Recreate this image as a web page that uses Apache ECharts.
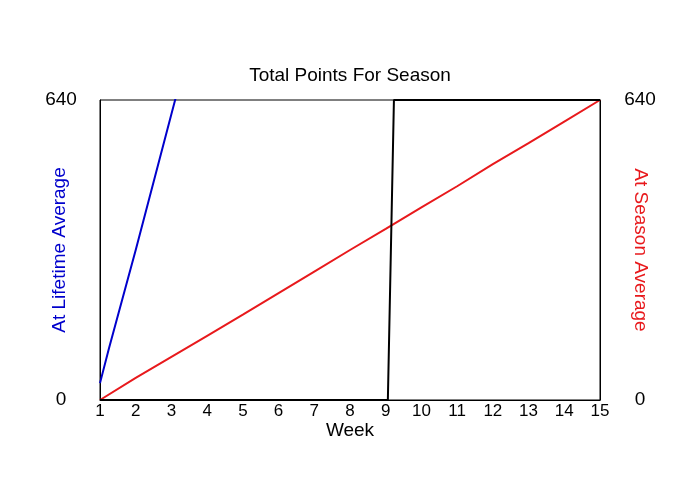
<!DOCTYPE html>
<html lang="en">
<head>
    <meta charset="UTF-8">
    <title>Total Points For Season</title>
    <script src="https://cdn.jsdelivr.net/npm/echarts@6/dist/echarts.min.js"></script>
    <style>
        html,body{margin:0;padding:0;background:#fff;}
        #main{width:700px;height:500px;}
    </style>
</head>
<body>
<div id="main"></div>
<script>
    // weeks for the season-average (red) line
    var weeks=[1,2,3,4,5,6,7,8,9,10,11,12,13,14,15];
    var seasonAvg=[0,47,92,137,182,228,274,320,365,411,456,503,548,594,640];
    // lifetime average (blue) - runs off the top after week 3
    var lifetimeWeeks=[1,1.25,2,3,4];
    var lifetimeAvg=[36,110,320,610,900];
    // actual total (black)
    var actualWeeks=[1,9.06,9.23,15];
    var actualTotal=[0,0,640,640];
    var yTicks=[0,640];

    function pairs(xs,ys){
        var out=[];
        for(var i=0;i<xs.length;i++){
            out.push([xs[i],ys[i]]);
        }
        return out;
    }

    var font='Liberation Sans';
    var chart=echarts.init(document.getElementById('main'));
    var option={
        animation:false,
        title:{
            text:'Total Points For Season',
            left:'center',
            top:61,
            textStyle:{fontFamily:font,fontSize:19,fontWeight:'normal',color:'#000'}
        },
        grid:{
            left:100,right:100,top:100,bottom:100,
            show:true,borderColor:'#000',borderWidth:1
        },
        xAxis:{
            type:'value',
            min:1,max:15,interval:1,
            name:'Week',
            nameLocation:'middle',
            nameGap:21,
            nameMoveOverlap:false,
            nameTextStyle:{fontFamily:font,fontSize:19,color:'#000'},
            axisLine:{lineStyle:{color:'#000'}},
            axisTick:{show:false},
            splitLine:{show:false},
            axisLabel:{fontFamily:font,fontSize:17,color:'#000',margin:3}
        },
        yAxis:[{
            type:'value',
            min:yTicks[0],max:yTicks[1],interval:yTicks[1]-yTicks[0],
            name:'At Lifetime Average',
            nameLocation:'middle',
            nameGap:31,
            nameMoveOverlap:false,
            nameTextStyle:{fontFamily:font,fontSize:19,color:'#0000cc'},
            axisLine:{show:true,lineStyle:{color:'#000'}},
            axisTick:{show:false},
            splitLine:{show:false},
            axisLabel:{fontFamily:font,fontSize:19,color:'#000',align:'center',margin:39}
        },{
            type:'value',
            position:'right',
            min:yTicks[0],max:yTicks[1],interval:yTicks[1]-yTicks[0],
            name:'At Season Average',
            nameLocation:'middle',
            nameGap:31,
            nameRotate:-90,
            nameMoveOverlap:false,
            nameTextStyle:{fontFamily:font,fontSize:19,color:'#e8191c'},
            axisLine:{show:true,lineStyle:{color:'#000'}},
            axisTick:{show:false},
            splitLine:{show:false},
            axisLabel:{fontFamily:font,fontSize:19,color:'#000',align:'center',margin:40}
        }],
        series:[{
            type:'line',
            yAxisIndex:0,
            data:pairs(lifetimeWeeks,lifetimeAvg),
            showSymbol:false,
            clip:true,
            lineStyle:{color:'#0000cc',width:2},
            itemStyle:{color:'#0000cc'}
        },{
            type:'line',
            yAxisIndex:1,
            data:pairs(weeks,seasonAvg),
            showSymbol:false,
            clip:true,
            lineStyle:{color:'#e8191c',width:2},
            itemStyle:{color:'#e8191c'}
        },{
            type:'line',
            yAxisIndex:0,
            data:pairs(actualWeeks,actualTotal),
            showSymbol:false,
            clip:true,
            lineStyle:{color:'#000',width:2},
            itemStyle:{color:'#000'}
        }]
    };
    chart.setOption(option);
</script>
</body>
</html>
